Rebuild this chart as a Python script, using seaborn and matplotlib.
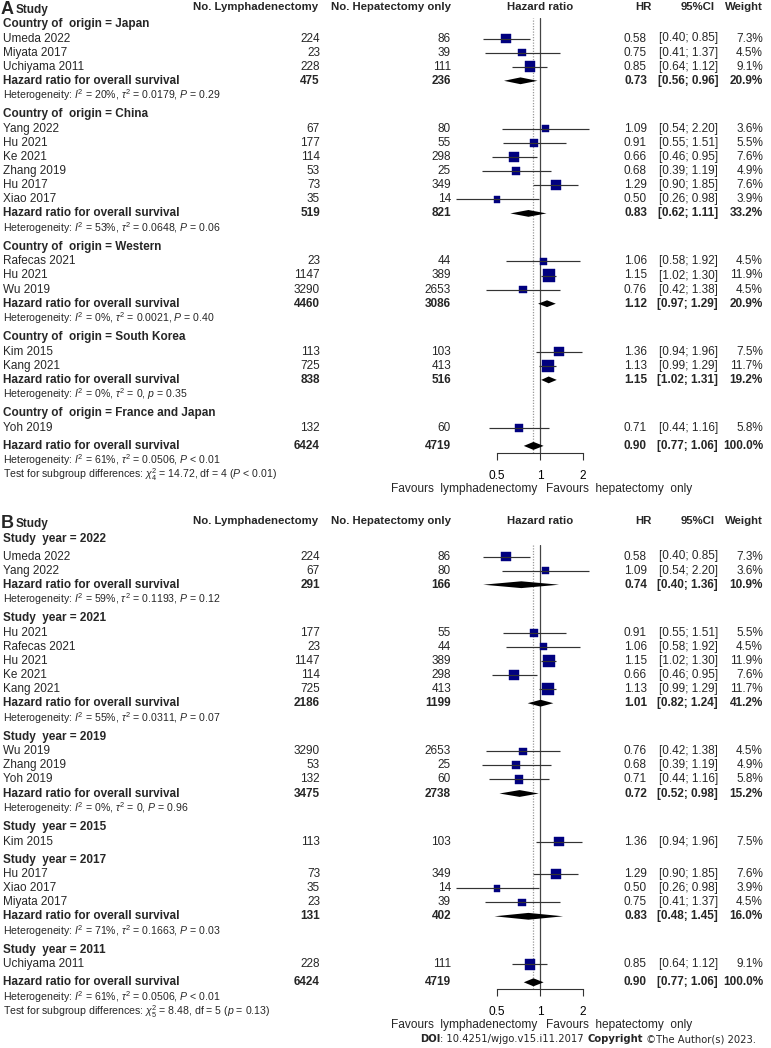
import numpy as np
import pandas as pd
import matplotlib.pyplot as plt
import seaborn as sns

# ---------------- panel A: subgroups by country of origin ----------------
groups_a = ["Japan", "China", "Western", "South Korea", "France and Japan"]
study_a = ["Umeda 2022", "Miyata 2017", "Uchiyama 2011",
           "Yang 2022", "Hu 2021", "Ke 2021", "Zhang 2019", "Hu 2017", "Xiao 2017",
           "Rafecas 2021", "Hu 2021", "Wu 2019",
           "Kim 2015", "Kang 2021",
           "Yoh 2019"]
grp_a = ["Japan"] * 3 + ["China"] * 6 + ["Western"] * 3 + ["South Korea"] * 2 + ["France and Japan"]
n_lymph_a = [224, 23, 228, 67, 177, 114, 53, 73, 35, 23, 1147, 3290, 113, 725, 132]
n_hep_a = [86, 39, 111, 80, 55, 298, 25, 349, 14, 44, 389, 2653, 103, 413, 60]
hr_a = [0.58, 0.75, 0.85, 1.09, 0.91, 0.66, 0.68, 1.29, 0.50, 1.06, 1.15, 0.76, 1.36, 1.13, 0.71]
lo_a = [0.40, 0.41, 0.64, 0.54, 0.55, 0.46, 0.39, 0.90, 0.26, 0.58, 1.02, 0.42, 0.94, 0.99, 0.44]
hi_a = [0.85, 1.37, 1.12, 2.20, 1.51, 0.95, 1.19, 1.85, 0.98, 1.92, 1.30, 1.38, 1.96, 1.29, 1.16]
w_a = [7.3, 4.5, 9.1, 3.6, 5.5, 7.6, 4.9, 7.6, 3.9, 4.5, 11.9, 4.5, 7.5, 11.7, 5.8]

# pooled subgroup results (None = single study, no pooling)
sum_n1_a = [475, 519, 4460, 838, None]
sum_n2_a = [236, 821, 3086, 516, None]
sum_hr_a = [0.73, 0.83, 1.12, 1.15, None]
sum_lo_a = [0.56, 0.62, 0.97, 1.02, None]
sum_hi_a = [0.96, 1.11, 1.29, 1.31, None]
sum_w_a = [20.9, 33.2, 20.9, 19.2, None]
het_i2_a = [20, 53, 0, 0, None]
het_tau_a = ["0.0179", "0.0648", "0.0021", "0", None]
het_p_a = [("P", "= 0.29"), ("P", "= 0.06"), ("P", "= 0.40"), ("p", "= 0.35"), None]
test_a = r"Test for subgroup differences: $\chi^2_4$ = 14.72, df = 4 ($P$ < 0.01)"

# ---------------- panel B: subgroups by study year ----------------
groups_b = ["2022", "2021", "2019", "2015", "2017", "2011"]
study_b = ["Umeda 2022", "Yang 2022",
           "Hu 2021", "Rafecas 2021", "Hu 2021", "Ke 2021", "Kang 2021",
           "Wu 2019", "Zhang 2019", "Yoh 2019",
           "Kim 2015",
           "Hu 2017", "Xiao 2017", "Miyata 2017",
           "Uchiyama 2011"]
grp_b = ["2022"] * 2 + ["2021"] * 5 + ["2019"] * 3 + ["2015"] + ["2017"] * 3 + ["2011"]
n_lymph_b = [224, 67, 177, 23, 1147, 114, 725, 3290, 53, 132, 113, 73, 35, 23, 228]
n_hep_b = [86, 80, 55, 44, 389, 298, 413, 2653, 25, 60, 103, 349, 14, 39, 111]
hr_b = [0.58, 1.09, 0.91, 1.06, 1.15, 0.66, 1.13, 0.76, 0.68, 0.71, 1.36, 1.29, 0.50, 0.75, 0.85]
lo_b = [0.40, 0.54, 0.55, 0.58, 1.02, 0.46, 0.99, 0.42, 0.39, 0.44, 0.94, 0.90, 0.26, 0.41, 0.64]
hi_b = [0.85, 2.20, 1.51, 1.92, 1.30, 0.95, 1.29, 1.38, 1.19, 1.16, 1.96, 1.85, 0.98, 1.37, 1.12]
w_b = [7.3, 3.6, 5.5, 4.5, 11.9, 7.6, 11.7, 4.5, 4.9, 5.8, 7.5, 7.6, 3.9, 4.5, 9.1]

sum_n1_b = [291, 2186, 3475, None, 131, None]
sum_n2_b = [166, 1199, 2738, None, 402, None]
sum_hr_b = [0.74, 1.01, 0.72, None, 0.83, None]
sum_lo_b = [0.40, 0.82, 0.52, None, 0.48, None]
sum_hi_b = [1.36, 1.24, 0.98, None, 1.45, None]
sum_w_b = [10.9, 41.2, 15.2, None, 16.0, None]
het_i2_b = [59, 55, 0, None, 71, None]
het_tau_b = ["0.1193", "0.0311", "0", None, "0.1663", None]
het_p_b = [("P", "= 0.12"), ("P", "= 0.07"), ("P", "= 0.96"), None, ("P", "= 0.03"), None]
test_b = r"Test for subgroup differences: $\chi^2_5$ = 8.48, df = 5 ($p$ = 0.13)"

# overall random-effects result (same in both panels)
overall_n1, overall_n2 = 6424, 4719
overall_hr, overall_lo, overall_hi = 0.90, 0.77, 1.06
overall_het = (61, "0.0506", ("P", "< 0.01"))

sns.set_theme(style="white")
plt.rcParams["font.family"] = ["Liberation Sans", "DejaVu Sans"]
plt.rcParams["mathtext.fontset"] = "custom"
plt.rcParams["mathtext.rm"] = "Liberation Sans"
plt.rcParams["mathtext.it"] = "Liberation Sans:italic"
plt.rcParams["mathtext.bf"] = "Liberation Sans:bold"

W, H = 771, 1048
FS = 8.5       # row text
FS_HET = 7.6   # heterogeneity lines
STEP = 14.1
X_ONE, PX_DOUBLE = 540.0, 43.0   # pixel position of HR = 1 and pixels per doubling
XLIM = (0.2, 3.0)
SQ = 6.3       # marker area (pt^2) per % weight

fig = plt.figure(figsize=(W / 100, H / 100), dpi=100)
tax = fig.add_axes([0, 0, 1, 1])
tax.set_xlim(0, W)
tax.set_ylim(H, 0)
tax.axis("off")


def het_text(i2, tau, p):
    return rf"Heterogeneity: $I^2$ = {i2}%, $\tau^2$ = {tau}, ${p[0]}$ {p[1]}"


def layout(groups, grp, sum_hr, y_head0, gap0):
    heads, studies, sums = [], {}, {}
    y = y_head0
    for gi, g in enumerate(groups):
        heads.append(y)
        y += gap0 if gi == 0 else 14.5
        for i in [k for k, s in enumerate(grp) if s == g]:
            studies[i] = y
            y += STEP
        if sum_hr[gi] is not None:
            sums[gi] = y
            y += 14.5 + 19
        else:
            y += 18 - STEP
    return heads, studies, sums, y


def draw_panel(letter, head_label, title_y, y_head0, gap0, top_y,
               groups, grp, study, n1, n2, hr, lo, hi, w,
               s_n1, s_n2, s_hr, s_lo, s_hi, s_w, h_i2, h_tau, h_p, test):
    heads, studies, sums, y_all = layout(groups, grp, s_hr, y_head0, gap0)

    # header row
    tax.text(1, title_y + 6.5, letter, fontsize=13, fontweight="bold", va="baseline")
    tax.text(16, title_y + 6.5, "Study", fontsize=FS, fontweight="bold", va="baseline")
    for x, s, ha in [(318, "No. Lymphadenectomy", "right"), (451, "No. Hepatectomy only", "right"),
                     (540, "Hazard ratio", "center"), (643, "HR", "center"),
                     (715, "95%CI", "right"), (763, "Weight", "right")]:
        tax.text(x, title_y, s, fontsize=8.2, fontweight="bold", ha=ha, va="center")

    for gi, g in enumerate(groups):
        tax.text(3, heads[gi], f"{head_label} = {g}", fontsize=FS, fontweight="bold", va="center")
        if gi in sums:
            y = sums[gi]
            tax.text(3, y, "Hazard ratio for overall survival", fontsize=FS, fontweight="bold", va="center")
            for x, s in [(320, s_n1[gi]), (451, s_n2[gi]), (647, f"{s_hr[gi]:.2f}"),
                         (718, f"[{s_lo[gi]:.2f}; {s_hi[gi]:.2f}]"), (763, f"{s_w[gi]:.1f}%")]:
                tax.text(x, y, s, fontsize=FS, fontweight="bold", ha="right", va="center")
            tax.text(3, y + 14.5, het_text(h_i2[gi], h_tau[gi], h_p[gi]), fontsize=FS_HET, va="center")

    for i, y in studies.items():
        tax.text(3, y, study[i], fontsize=FS, va="center")
        for x, s in [(320, n1[i]), (451, n2[i]), (647, f"{hr[i]:.2f}"),
                     (718, f"[{lo[i]:.2f}; {hi[i]:.2f}]"), (763, f"{w[i]:.1f}%")]:
            tax.text(x, y, s, fontsize=FS, ha="right", va="center")

    # overall
    tax.text(3, y_all, "Hazard ratio for overall survival", fontsize=FS, fontweight="bold", va="center")
    for x, s in [(320, overall_n1), (451, overall_n2), (647, f"{overall_hr:.2f}"),
                 (718, f"[{overall_lo:.2f}; {overall_hi:.2f}]"), (763, "100.0%")]:
        tax.text(x, y_all, s, fontsize=FS, fontweight="bold", ha="right", va="center")
    tax.text(3, y_all + 14.5, het_text(*overall_het), fontsize=FS_HET, va="center")
    tax.text(3, y_all + 29, test, fontsize=FS_HET, va="center")

    axis_y = y_all + 7
    tax.text(537, axis_y + 36, "Favours  lymphadenectomy", fontsize=8.6, ha="right", va="center")
    tax.text(546, axis_y + 36, "Favours  hepatectomy  only", fontsize=8.6, ha="left", va="center")

    # forest axes: log HR on x, pixel rows on y
    left = X_ONE + PX_DOUBLE * np.log2(XLIM[0])
    right = X_ONE + PX_DOUBLE * np.log2(XLIM[1])
    ax = fig.add_axes([left / W, 1 - axis_y / H, (right - left) / W, (axis_y - top_y) / H])
    ax.set_facecolor("none")
    ax.set_xscale("log")
    ax.set_xlim(*XLIM)
    ax.set_ylim(axis_y, top_y)

    df = pd.DataFrame({"hr": hr, "lo": lo, "hi": hi, "w": w,
                       "y": [studies[i] for i in range(len(study))]})
    ax.axvline(1, color="#444444", lw=0.9, zorder=1)
    ax.axvline(overall_hr, color="#9a9a9a", lw=0.9, ls=(0, (1, 1.2)), zorder=1)
    sns.scatterplot(data=df, x="hr", y="y", size="w", sizes=(SQ * min(w), SQ * max(w)),
                    size_norm=(min(w), max(w)), marker="s", color="#00007f",
                    edgecolor="#00007f", linewidth=0.3, legend=False, ax=ax, zorder=2)
    ax.hlines(df["y"], df["lo"], df["hi"], color="#333333", lw=0.85, zorder=3)

    dh = 3.4
    for gi, y in sums.items():
        ax.fill([s_lo[gi], s_hr[gi], s_hi[gi], s_hr[gi]], [y, y - dh, y, y + dh],
                color="black", lw=0, zorder=4)
    ax.fill([overall_lo, overall_hr, overall_hi, overall_hr],
            [y_all, y_all - 4, y_all, y_all + 4], color="black", lw=0, zorder=4)

    ax.set_xlabel("")
    ax.set_ylabel("")
    ax.set_yticks([])
    ax.set_xticks([0.5, 1, 2])
    ax.set_xticklabels(["0.5", "1", "2"])
    ax.xaxis.set_minor_locator(plt.NullLocator())
    ax.tick_params(axis="x", length=5, width=0.8, color="#333333", labelsize=8.6, pad=7,
                   bottom=True, labelcolor="black")
    for side in ["top", "left", "right"]:
        ax.spines[side].set_visible(False)
    ax.spines["bottom"].set_bounds(0.5, 2)
    ax.spines["bottom"].set_color("#333333")
    ax.spines["bottom"].set_linewidth(0.8)


draw_panel("A", "Country of  origin", 7, 24, 14.5, 18,
           groups_a, grp_a, study_a, n_lymph_a, n_hep_a, hr_a, lo_a, hi_a, w_a,
           sum_n1_a, sum_n2_a, sum_hr_a, sum_lo_a, sum_hi_a, sum_w_a,
           het_i2_a, het_tau_a, het_p_a, test_a)
draw_panel("B", "Study  year", 521, 539, 17.5, 545,
           groups_b, grp_b, study_b, n_lymph_b, n_hep_b, hr_b, lo_b, hi_b, w_b,
           sum_n1_b, sum_n2_b, sum_hr_b, sum_lo_b, sum_hi_b, sum_w_b,
           het_i2_b, het_tau_b, het_p_b, test_b)

# source line
t1 = tax.text(420, 1039, "DOI", fontsize=7.2, fontweight="bold", family="DejaVu Sans", va="center")
t2 = tax.annotate(": 10.4251/wjgo.v15.i11.2017 ", xy=(1, 0), xycoords=t1, va="bottom",
                  fontsize=7.2, family="DejaVu Sans")
t3 = tax.annotate("Copyright", xy=(1, 0), xycoords=t2, va="bottom",
                  fontsize=7.2, fontweight="bold", family="DejaVu Sans")
tax.annotate(" \u00a9The Author(s) 2023.", xy=(1, 0), xycoords=t3, va="bottom",
             fontsize=7.2, family="DejaVu Sans")

fig.savefig("out.png", dpi=100)
